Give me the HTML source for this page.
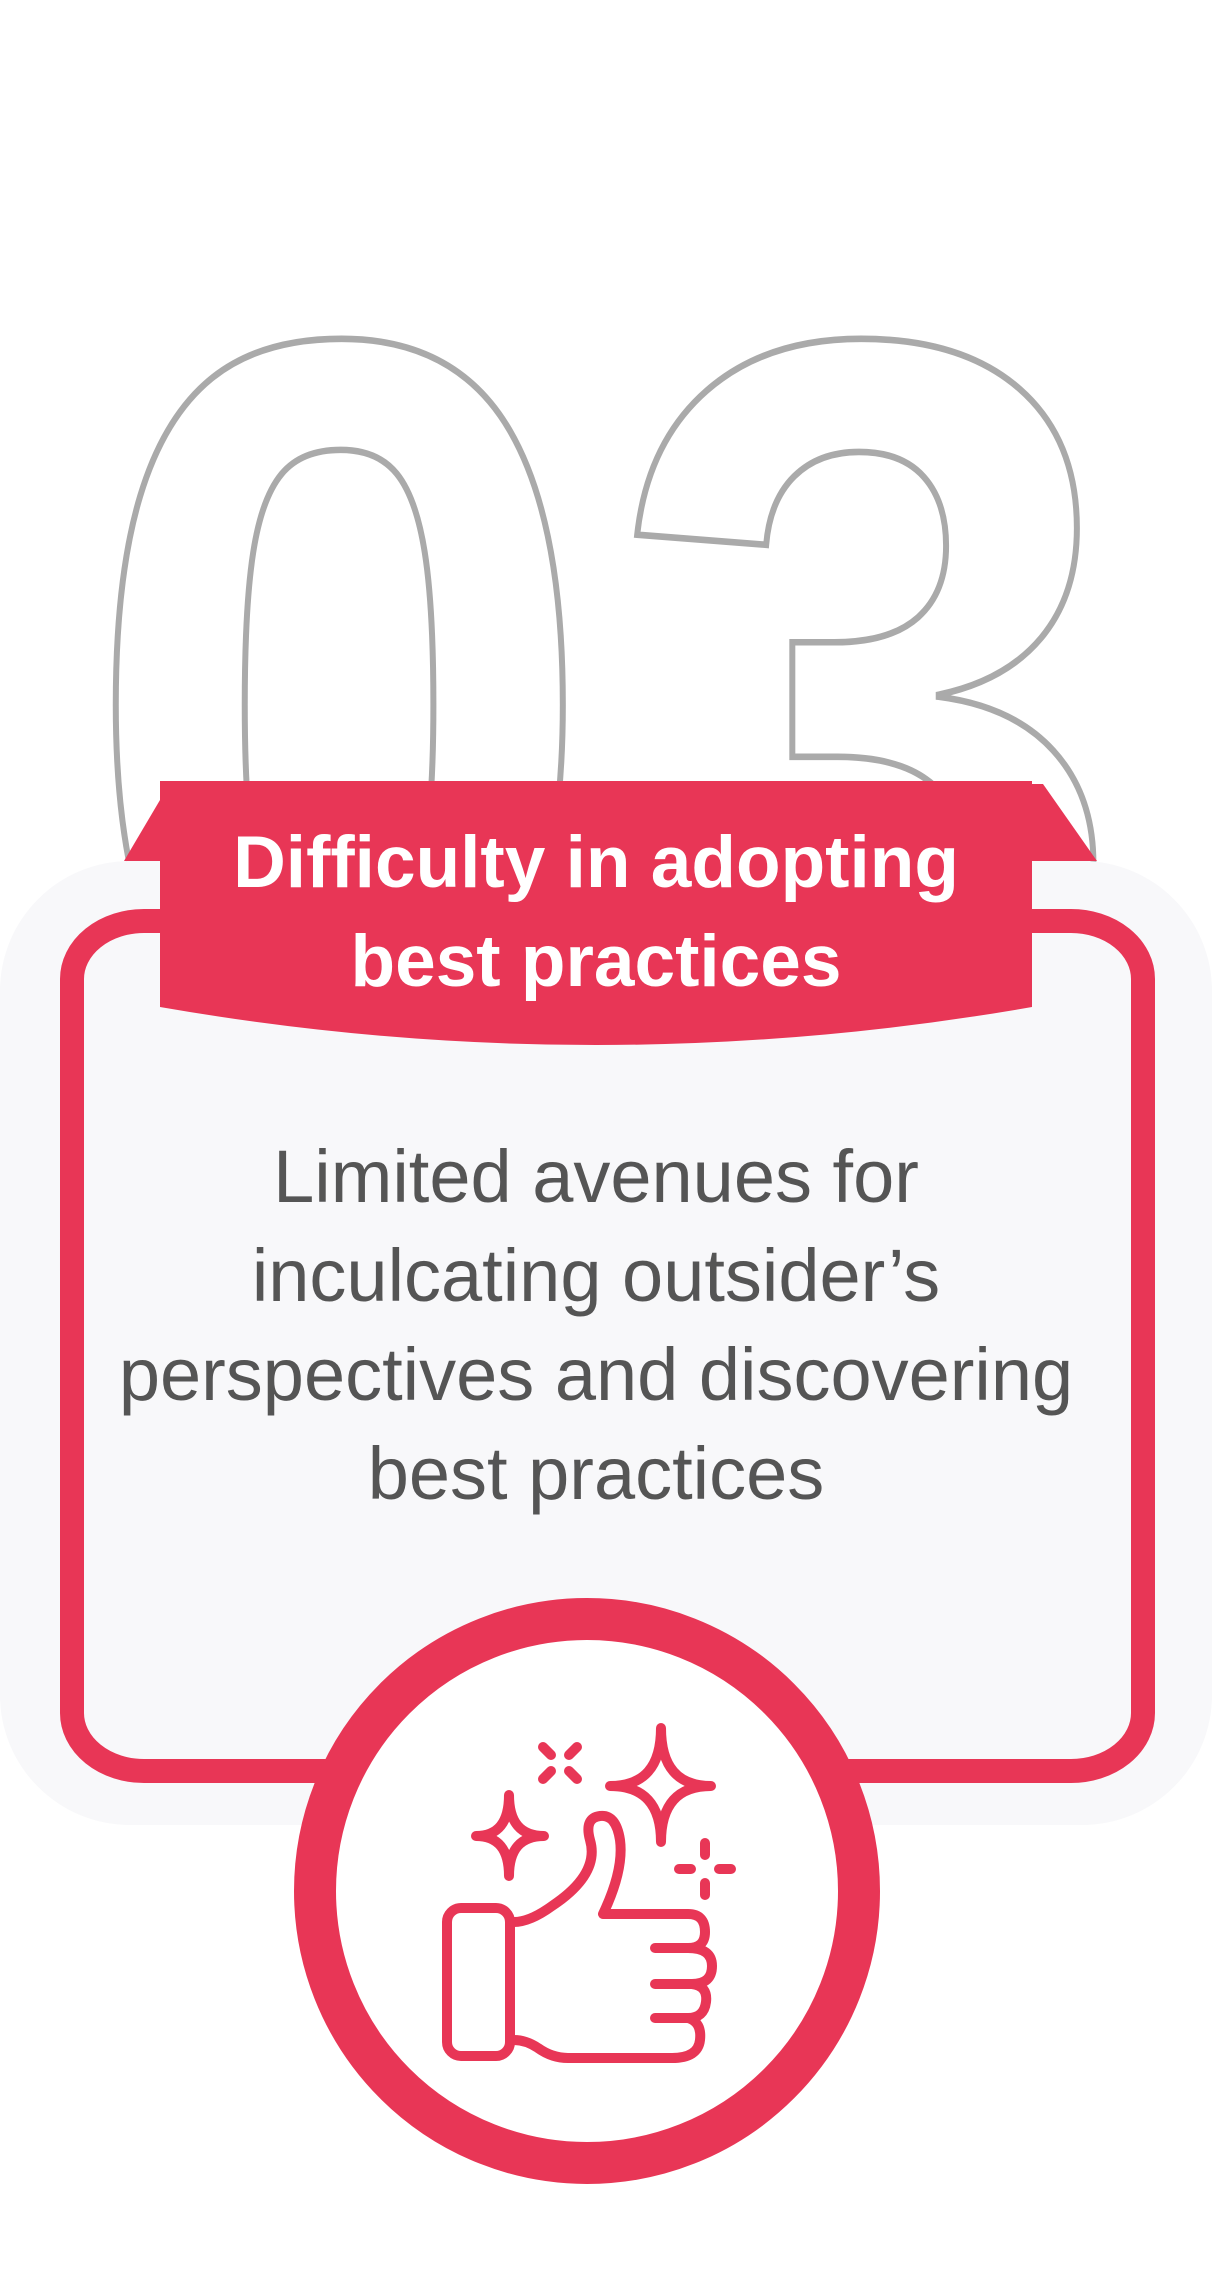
<!DOCTYPE html>
<html><head><meta charset="utf-8"><style>
html,body{margin:0;padding:0;background:#fff;width:1212px;height:2277px;overflow:hidden}
svg{display:block}
</style></head><body>
<svg width="1212" height="2277" viewBox="0 0 1212 2277" xmlns="http://www.w3.org/2000/svg">
  <g font-family="Liberation Sans, sans-serif" font-weight="bold" font-size="940" fill="#fff" stroke="#aaaaaa" stroke-width="6">
    <g transform="translate(0,337) scale(1,1.1) translate(0,-337)">
      <text x="340" y="995" text-anchor="middle">0</text>
      <text x="866" y="995" text-anchor="middle">3</text>
    </g>
  </g>
  <rect x="0" y="861" width="1212" height="964" rx="130" ry="130" fill="#f8f8fa"/>
  <rect x="72" y="921" width="1071" height="850" rx="72" ry="58" fill="none" stroke="#e83656" stroke-width="24"/>
  <polygon points="160,800 124,861 160,861" fill="#e83656"/>
  <polygon points="1032,784 1043,784 1097,861 1032,861" fill="#e83656"/>
  <path d="M160,781 H1032 V1007 Q596,1083 160,1007 Z" fill="#e83656"/>
  <g font-family="Liberation Sans, sans-serif" font-weight="bold" font-size="73" fill="#fff" text-anchor="middle">
    <text x="596" y="887">Difficulty in adopting</text>
    <text x="596" y="986">best practices</text>
  </g>
  <g font-family="Liberation Sans, sans-serif" font-size="74" fill="#555555" text-anchor="middle">
    <text x="596" y="1202">Limited avenues for</text>
    <text x="596" y="1301">inculcating outsider’s</text>
    <text x="596" y="1400">perspectives and discovering</text>
    <text x="596" y="1499">best practices</text>
  </g>
  <circle cx="587" cy="1891" r="272" fill="#fff" stroke="#e83656" stroke-width="42"/>
  <g fill="none" stroke="#e83656" stroke-width="10" stroke-linecap="round" stroke-linejoin="round">
    <rect x="447" y="1908" width="63" height="148" rx="14"/>
    <path d="M514,1922 Q530,1922 552,1906 Q600,1874 590,1840 Q584,1818 600,1816 Q616,1814 620,1840 Q624,1870 603,1914 H688 Q705,1914 705,1932 Q705,1948 688,1948 H655 M688,1948 Q712,1948 712,1966 Q712,1984 692,1984 H655 M692,1984 Q708,1986 706,2002 Q704,2018 688,2018 H655 M688,2018 Q702,2022 700,2040 Q698,2058 672,2058 H568 Q552,2058 538,2048 Q526,2040 514,2040"/>
    <path d="M661,1728 Q661,1786 711,1786 Q661,1786 661,1842 Q661,1786 610,1786 Q661,1786 661,1728 Z"/>
    <path d="M509,1795 Q509,1836 544,1836 Q509,1836 509,1876 Q509,1836 476,1836 Q509,1836 509,1795 Z"/>
    <path d="M543,1747 L551,1755 M577,1747 L569,1755 M543,1779 L551,1771 M577,1779 L569,1771"/>
    <path d="M705,1843 V1855 M705,1883 V1895 M679,1869 H691 M719,1869 H731"/>
  </g>
</svg>
</body></html>
